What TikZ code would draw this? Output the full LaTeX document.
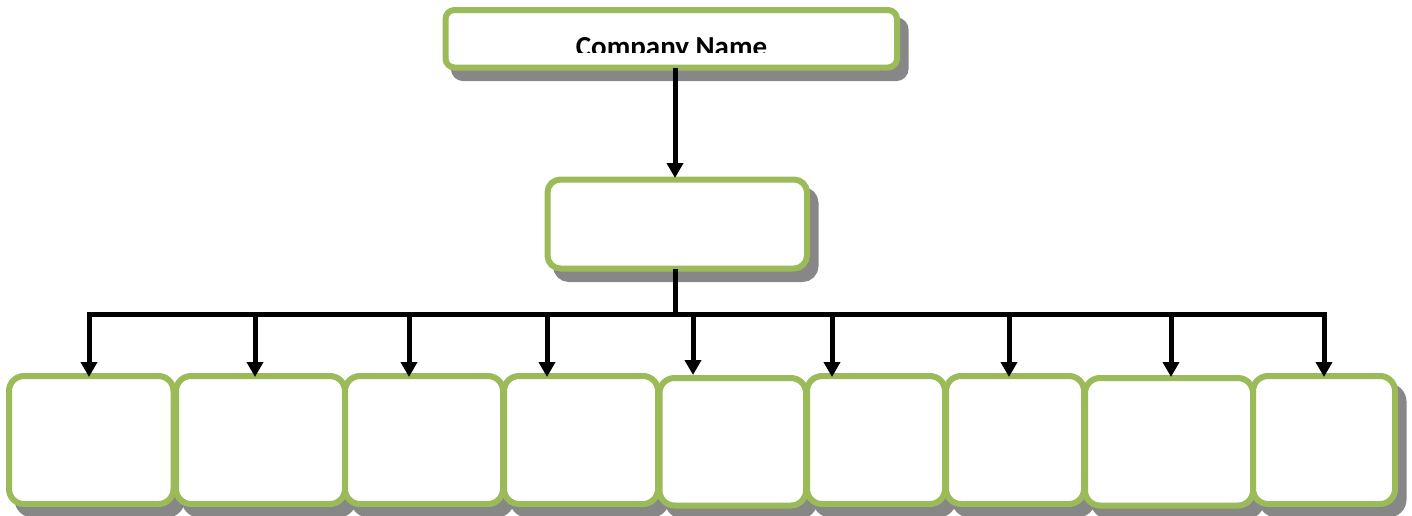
\documentclass[tikz,border=0pt]{standalone}
\usepackage{fontspec}
\newfontfamily\calibri{Carlito}
\usetikzlibrary{arrows.meta,calc}
\definecolor{boxgreen}{HTML}{9BBB59}
\definecolor{shgray}{HTML}{878787}
\tikzset{
  box/.style={draw=boxgreen, line width=6pt, fill=white, inner sep=0pt, outer sep=0pt,
    preaction={draw=shgray, fill=shgray, transform canvas={shift={(8.5pt,-10.5pt)}}}},
  conn/.style={line width=5pt, draw=black},
  arr/.style={conn, -{Triangle[width=16pt,length=15pt]}},
}
\begin{document}
\begin{tikzpicture}[x=1pt,y=-1pt]
\useasboundingbox (0,0) rectangle (1412,515);
% top box
\node[box, rounded corners=9pt, minimum width=451.5pt, minimum height=57.5pt] (top) at (671.25,38.75) {};
\begin{scope}
\clip (440,0) rectangle (900,52.3);
\node[anchor=base, inner sep=0pt] (title) at (671.5,56.4) {\calibri\bfseries\fontsize{29}{29}\selectfont Company Name};
\end{scope}
% middle box
\node[box, rounded corners=13pt, minimum width=259.5pt, minimum height=89pt] (mid) at (677.25,224) {};
% bottom boxes
\tikzset{bbox/.style={box, rounded corners=15pt}}
\node[bbox, minimum width=164.5pt, minimum height=128pt] (b1) at (91.25,440) {};
\node[bbox, minimum width=169pt, minimum height=128pt] (b2) at (260.5,440) {};
\node[bbox, minimum width=158pt, minimum height=128pt] (b3) at (424,440) {};
\node[bbox, minimum width=154pt, minimum height=128pt] (b4) at (581,440) {};
\node[bbox, minimum width=146.5pt, minimum height=127.5pt] (b5) at (732.75,441.75) {};
\node[bbox, minimum width=138pt, minimum height=128pt] (b6) at (876,440) {};
\node[bbox, minimum width=138pt, minimum height=128pt] (b7) at (1015,440) {};
\node[bbox, minimum width=168pt, minimum height=127.5pt] (b8) at (1169,441.75) {};
\node[bbox, minimum width=142pt, minimum height=128pt] (b9) at (1324,440) {};
% connectors
\coordinate (c) at (675,314);
\coordinate (d1) at (89,314);
\coordinate (d2) at (255,314);
\coordinate (d3) at (409,314);
\coordinate (d4) at (547,314);
\coordinate (d5) at (693,314);
\coordinate (d6) at (832,314);
\coordinate (d7) at (1009,314);
\coordinate (d8) at (1171,314);
\coordinate (d9) at (1324,314);
\draw[arr, shorten >=1.5pt] (c |- top.south) -- (c |- mid.north);
\draw[conn] (c |- mid.south) -- (c);
\draw[conn, line cap=rect] (d1) -- (d9);
\draw[arr, shorten >=-1pt] (d1) -- (d1 |- b1.north);
\draw[arr, shorten >=-1pt] (d2) -- (d2 |- b2.north);
\draw[arr, shorten >=-1pt] (d3) -- (d3 |- b3.north);
\draw[arr, shorten >=-1pt] (d4) -- (d4 |- b4.north);
\draw[arr, shorten >=3pt] (d5) -- (d5 |- b5.north);
\draw[arr, shorten >=-1pt] (d6) -- (d6 |- b6.north);
\draw[arr, shorten >=-1pt] (d7) -- (d7 |- b7.north);
\draw[arr, shorten >=1pt] (d8) -- (d8 |- b8.north);
\draw[arr, shorten >=-1pt] (d9) -- (d9 |- b9.north);
\end{tikzpicture}
\end{document}
